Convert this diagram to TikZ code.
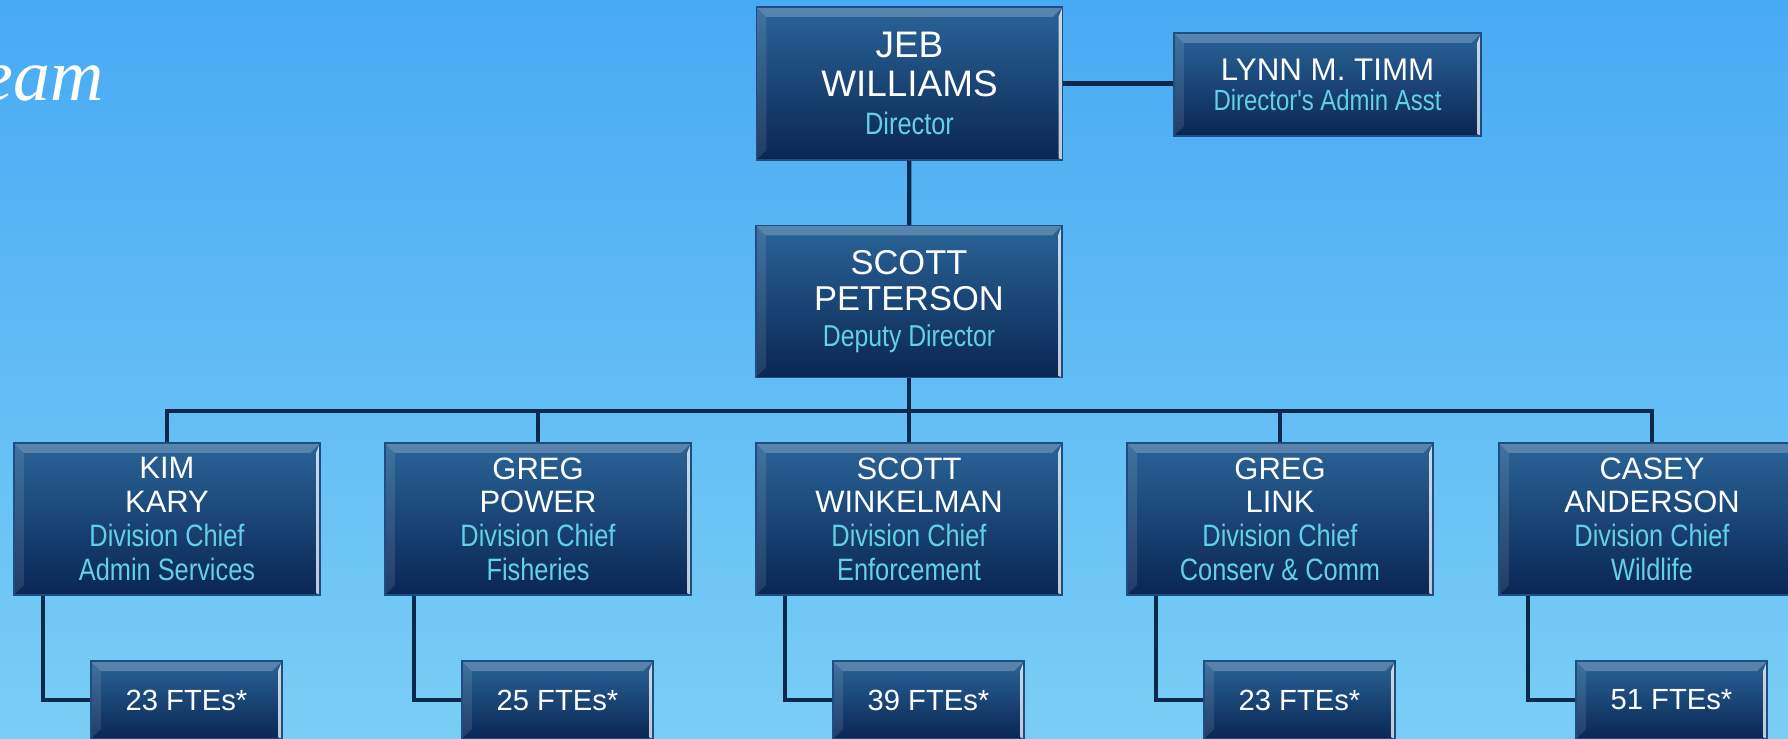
\documentclass[tikz,border=0pt]{standalone}
\usepackage{fontspec}
\setmainfont{Liberation Sans}
\newfontfamily\narrowfont{Liberation Sans}[FakeStretch=0.82]
\newfontfamily\teamfont{Liberation Serif}
\usetikzlibrary{positioning}

\definecolor{bgtop}{RGB}{72,170,244}
\definecolor{bgbot}{RGB}{122,206,245}
\definecolor{boxtop}{RGB}{42,100,152}
\definecolor{boxbot}{RGB}{10,38,84}
\definecolor{boxedge}{RGB}{28,78,132}
\definecolor{linecol}{RGB}{12,40,76}
\definecolor{titlecol}{RGB}{100,208,232}

\newcommand{\cargo}[1]{{\narrowfont\color{titlecol}#1}}

\tikzset{
  orgbox/.style={rectangle, draw=boxedge, line width=0.4pt,
    top color=boxtop, bottom color=boxbot, text=white, align=center,
    inner sep=0pt, minimum width=3.06cm, minimum height=1.52cm,
    path picture={
      \fill[white, opacity=0.22] (path picture bounding box.north west) -- (path picture bounding box.north east)
        -- ([xshift=-0.1cm,yshift=-0.1cm]path picture bounding box.north east)
        -- ([xshift=0.1cm,yshift=-0.1cm]path picture bounding box.north west) -- cycle;
      \fill[white, opacity=0.10] (path picture bounding box.north west) -- ([xshift=0.1cm,yshift=-0.1cm]path picture bounding box.north west)
        -- ([xshift=0.1cm,yshift=0.1cm]path picture bounding box.south west) -- (path picture bounding box.south west) -- cycle;
      \fill[white, opacity=0.75] (path picture bounding box.north east) -- (path picture bounding box.south east)
        -- ([xshift=-0.04cm,yshift=0.02cm]path picture bounding box.south east)
        -- ([xshift=-0.04cm,yshift=-0.1cm]path picture bounding box.north east) -- cycle;
    }},
  ftebox/.style={orgbox, minimum width=1.91cm, minimum height=0.78cm,
    font=\fontsize{8.3}{9}\selectfont},
  divbox/.style={orgbox, font=\fontsize{8.8}{9.6}\selectfont},
  conn/.style={draw=linecol, line width=1.2pt}
}

\begin{document}
\begin{tikzpicture}[x=0.01cm, y=-0.01cm]
    % Fondo
    \useasboundingbox (0,0) rectangle (1788,738);
    \shade[top color=bgtop, bottom color=bgbot] (0,0) rectangle (1788,738);

    % Titulo (cortado a la izquierda)
    \node[anchor=base east, text=white, font=\teamfont\itshape\fontsize{21}{21}\selectfont] (team) at (116,100) {Team};

    % Direccion
    \node[orgbox, minimum height=1.53cm, font=\fontsize{10.5}{11}\selectfont] (jeb) at (909.5,83.5)
        {JEB\\WILLIAMS\\\cargo{\fontsize{8.8}{10}\selectfont Director}};
    \node[orgbox, minimum width=3.07cm, minimum height=1.03cm, font=\fontsize{8.9}{8.6}\selectfont] (lynn) at (1327.5,84.5)
        {LYNN M. TIMM\\\cargo{\fontsize{8.3}{8.6}\selectfont Director's Admin Asst}};
    \node[orgbox, font=\fontsize{9.8}{10.3}\selectfont] (scottp) at (909,301.5)
        {SCOTT\\PETERSON\\\cargo{\fontsize{8.6}{9.5}\selectfont Deputy Director}};

    % Jefes de division
    \node[divbox] (kim) at (167,519) {KIM\\KARY\\\cargo{Division Chief}\\\cargo{Admin Services}};
    \node[divbox] (power) at (538,519) {GREG\\POWER\\\cargo{Division Chief}\\\cargo{Fisheries}};
    \node[divbox] (winkel) at (909,519) {SCOTT\\WINKELMAN\\\cargo{Division Chief}\\\cargo{Enforcement}};
    \node[divbox] (link) at (1280,519) {GREG\\LINK\\\cargo{Division Chief}\\\cargo{Conserv \& Comm}};
    \node[divbox] (casey) at (1652,519) {CASEY\\ANDERSON\\\cargo{Division Chief}\\\cargo{Wildlife}};

    % Personal
    \node[ftebox] (fte1) at (186.5,700) {23 FTEs*};
    \node[ftebox] (fte2) at (557.5,700) {25 FTEs*};
    \node[ftebox] (fte3) at (928.5,700) {39 FTEs*};
    \node[ftebox] (fte4) at (1299.5,700) {23 FTEs*};
    \node[ftebox] (fte5) at (1671.5,700) {51 FTEs*};

    % Lineas
    \coordinate (bus) at (909,411);
    \draw[conn] (jeb.east) -- (jeb.east -| lynn.west);
    \draw[conn] (jeb) -- (scottp);
    \draw[conn] (scottp) -- (bus);
    \draw[conn] (kim.north) |- (casey.north |- bus) -- (casey.north);
    \foreach \d in {power,winkel,link}
        \draw[conn] (\d.north) -- (\d.north |- bus);
    \foreach \d/\f in {kim/fte1,power/fte2,winkel/fte3,link/fte4,casey/fte5}
        \draw[conn] ([xshift=0.3cm]\d.south west) |- (\f.west);
\end{tikzpicture}
\end{document}
